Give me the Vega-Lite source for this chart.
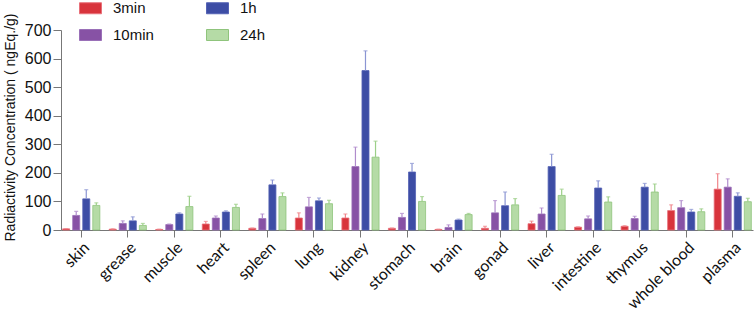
{
  "$schema": "https://vega.github.io/schema/vega-lite/v6.json",
  "autosize": "none",
  "padding": {"left": 61, "top": 30, "right": 1, "bottom": 82},
  "width": 692,
  "height": 200,
  "background": "white",
  "config": {
    "view": {"stroke": null},
    "axisY": {
      "grid": false, "labelOverlap": false, "labelFlush": false,
      "labelFont": "Liberation Sans", "labelFontSize": 16, "labelColor": "#111",
      "domainColor": "#777", "tickColor": "#777", "tickSize": 8, "labelPadding": 2,
      "titleFont": "Liberation Sans", "titleFontSize": 14, "titleFontWeight": "normal", "titleColor": "#111"
    },
    "axisX": {
      "labelAngle": -45, "labelFont": "Lato", "labelFontSize": 16,
      "labelColor": "#111", "domainColor": "#777", "tickColor": "#777",
      "tickSize": 7, "labelPadding": 2
    },
    "legend": {
      "orient": "none", "legendX": 18, "legendY": -33.5, "padding": 0,
      "columns": 2, "symbolType": "M-1,-0.5H1V0.5H-1Z", "symbolSize": 484, "symbolStrokeWidth": 1,
      "labelFont": "Liberation Sans", "labelFontSize": 15, "labelColor": "#111",
      "labelOffset": 11, "columnPadding": 50, "rowPadding": 7
    }
  },
  "data": {"values": [
    {"organ": "skin", "time": "3min", "v": 4, "hi": 5},
    {"organ": "skin", "time": "10min", "v": 51, "hi": 65},
    {"organ": "skin", "time": "1h", "v": 109, "hi": 141},
    {"organ": "skin", "time": "24h", "v": 86, "hi": 95},
    {"organ": "grease", "time": "3min", "v": 3, "hi": 4},
    {"organ": "grease", "time": "10min", "v": 23, "hi": 32},
    {"organ": "grease", "time": "1h", "v": 32, "hi": 46},
    {"organ": "grease", "time": "24h", "v": 16, "hi": 23},
    {"organ": "muscle", "time": "3min", "v": 2, "hi": 3},
    {"organ": "muscle", "time": "10min", "v": 19, "hi": 21},
    {"organ": "muscle", "time": "1h", "v": 56, "hi": 60},
    {"organ": "muscle", "time": "24h", "v": 82, "hi": 118},
    {"organ": "heart", "time": "3min", "v": 21, "hi": 30},
    {"organ": "heart", "time": "10min", "v": 42, "hi": 49},
    {"organ": "heart", "time": "1h", "v": 63, "hi": 67},
    {"organ": "heart", "time": "24h", "v": 79, "hi": 90},
    {"organ": "spleen", "time": "3min", "v": 6, "hi": 7},
    {"organ": "spleen", "time": "10min", "v": 40, "hi": 56},
    {"organ": "spleen", "time": "1h", "v": 158, "hi": 175},
    {"organ": "spleen", "time": "24h", "v": 117, "hi": 130},
    {"organ": "lung", "time": "3min", "v": 42, "hi": 60},
    {"organ": "lung", "time": "10min", "v": 81, "hi": 114},
    {"organ": "lung", "time": "1h", "v": 102, "hi": 112},
    {"organ": "lung", "time": "24h", "v": 92, "hi": 104},
    {"organ": "kidney", "time": "3min", "v": 42, "hi": 56},
    {"organ": "kidney", "time": "10min", "v": 222, "hi": 290},
    {"organ": "kidney", "time": "1h", "v": 558, "hi": 627},
    {"organ": "kidney", "time": "24h", "v": 255, "hi": 311},
    {"organ": "stomach", "time": "3min", "v": 6, "hi": 7},
    {"organ": "stomach", "time": "10min", "v": 44, "hi": 58},
    {"organ": "stomach", "time": "1h", "v": 203, "hi": 233},
    {"organ": "stomach", "time": "24h", "v": 100, "hi": 117},
    {"organ": "brain", "time": "3min", "v": 2, "hi": 3},
    {"organ": "brain", "time": "10min", "v": 9, "hi": 18},
    {"organ": "brain", "time": "1h", "v": 35, "hi": 38},
    {"organ": "brain", "time": "24h", "v": 54, "hi": 58},
    {"organ": "gonad", "time": "3min", "v": 6, "hi": 13},
    {"organ": "gonad", "time": "10min", "v": 60, "hi": 103},
    {"organ": "gonad", "time": "1h", "v": 85, "hi": 133},
    {"organ": "gonad", "time": "24h", "v": 88, "hi": 110},
    {"organ": "liver", "time": "3min", "v": 22, "hi": 31},
    {"organ": "liver", "time": "10min", "v": 56, "hi": 77},
    {"organ": "liver", "time": "1h", "v": 222, "hi": 265},
    {"organ": "liver", "time": "24h", "v": 121, "hi": 143},
    {"organ": "intestine", "time": "3min", "v": 10, "hi": 11},
    {"organ": "intestine", "time": "10min", "v": 39, "hi": 49},
    {"organ": "intestine", "time": "1h", "v": 147, "hi": 172},
    {"organ": "intestine", "time": "24h", "v": 98, "hi": 116},
    {"organ": "thymus", "time": "3min", "v": 13, "hi": 15},
    {"organ": "thymus", "time": "10min", "v": 40, "hi": 48},
    {"organ": "thymus", "time": "1h", "v": 150, "hi": 163},
    {"organ": "thymus", "time": "24h", "v": 133, "hi": 161},
    {"organ": "whole blood", "time": "3min", "v": 68, "hi": 88},
    {"organ": "whole blood", "time": "10min", "v": 78, "hi": 103},
    {"organ": "whole blood", "time": "1h", "v": 63, "hi": 72},
    {"organ": "whole blood", "time": "24h", "v": 64, "hi": 74},
    {"organ": "plasma", "time": "3min", "v": 143, "hi": 197},
    {"organ": "plasma", "time": "10min", "v": 150, "hi": 179},
    {"organ": "plasma", "time": "1h", "v": 118, "hi": 130},
    {"organ": "plasma", "time": "24h", "v": 99, "hi": 111}
  ]},
  "encoding": {
    "x": {
      "field": "organ", "type": "nominal", "sort": null,
      "scale": {"paddingInner": 0.13, "paddingOuter": 0},
      "axis": {"title": null}
    },
    "xOffset": {
      "field": "time", "type": "nominal", "sort": ["3min", "10min", "1h", "24h"],
      "scale": {"paddingInner": 0.3, "paddingOuter": 0.165}
    },
    "y": {
      "field": "v", "type": "quantitative",
      "scale": {"domain": [0, 700], "nice": false},
      "axis": {
        "title": "Radiactivity Concentration ( ngEq./g)",
        "values": [0, 100, 200, 300, 400, 500, 600, 700],
        "titleX": -47, "titleY": 97, "titleAlign": "center", "titleBaseline": "alphabetic", "titleAngle": -90
      }
    }
  },
  "layer": [
    {
      "mark": {"type": "bar", "strokeWidth": 0.8},
      "encoding": {
        "fill": {
          "field": "time", "type": "nominal",
          "scale": {"domain": ["3min", "10min", "1h", "24h"], "range": ["#d8343c", "#8752a5", "#3d4da5", "#b5dba6"]},
          "legend": {"title": null}
        },
        "stroke": {
          "field": "time", "type": "nominal",
          "scale": {"domain": ["3min", "10min", "1h", "24h"], "range": ["#e8707a", "#9a70b8", "#5563b5", "#8fc47c"]},
          "legend": {"title": null}
        }
      }
    },
    {
      "mark": {"type": "rule", "strokeWidth": 1.2},
      "encoding": {
        "y2": {"field": "hi"},
        "color": {"field": "time", "type": "nominal", "legend": null,
          "scale": {"domain": ["3min", "10min", "1h", "24h"], "range": ["#f0858a", "#b08ccc", "#8b95d3", "#9ccf88"]}}
      }
    },
    {
      "mark": {"type": "tick", "size": 4, "thickness": 1.2, "orient": "horizontal"},
      "encoding": {
        "y": {"field": "hi", "type": "quantitative"},
        "color": {"field": "time", "type": "nominal", "legend": null}
      }
    }
  ]
}
